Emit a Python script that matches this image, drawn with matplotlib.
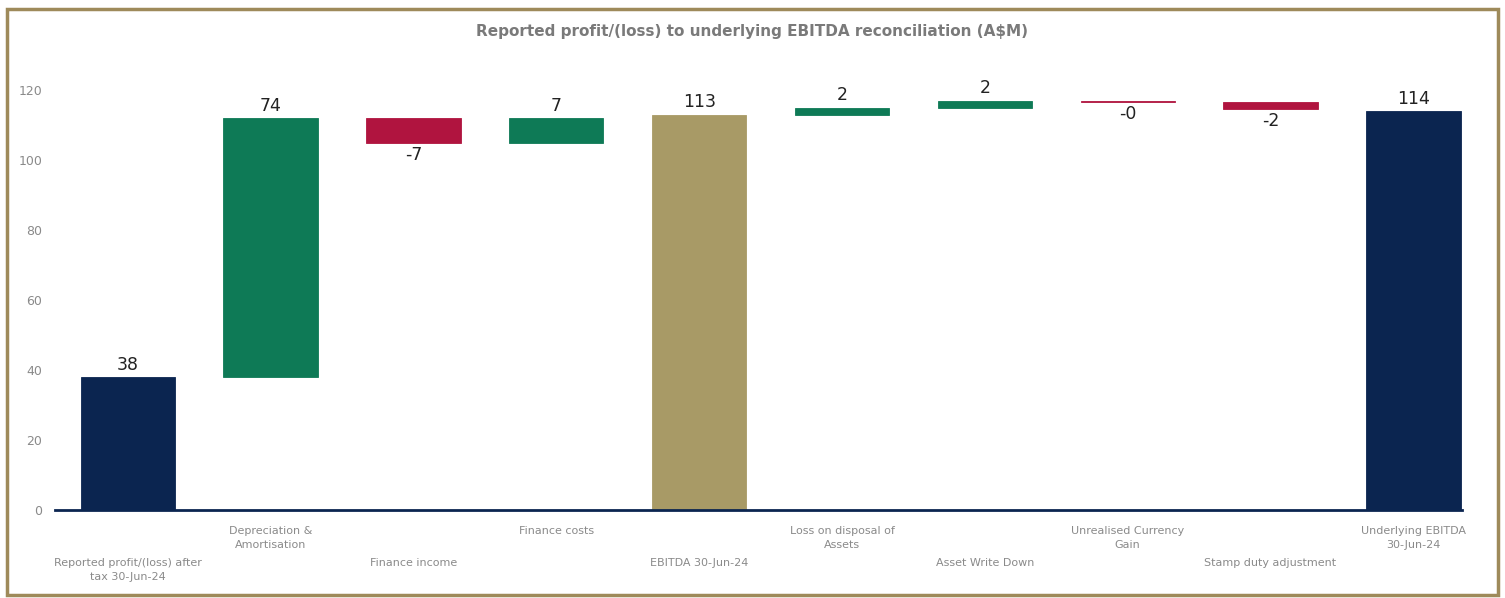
import numpy as np
import matplotlib
matplotlib.use("Agg")
import matplotlib.pyplot as plt
from matplotlib.patches import Rectangle
from matplotlib.transforms import blended_transform_factory

categories = [
    "Reported profit/(loss) after\ntax 30-Jun-24",
    "Depreciation &\nAmortisation",
    "Finance income",
    "Finance costs",
    "EBITDA 30-Jun-24",
    "Loss on disposal of\nAssets",
    "Asset Write Down",
    "Unrealised Currency\nGain",
    "Stamp duty adjustment",
    "Underlying EBITDA\n30-Jun-24",
]
values = [38, 74, -7, 7, 113, 2, 2, -0.3, -2, 114]
is_total = [True, False, False, False, True, False, False, False, False, True]
total_colors = ["#0b2550", None, None, None, "#a89a66", None, None, None, None, "#0b2550"]

GREEN = "#0e7a56"
RED = "#b0143f"
GREY = "#8a8a8a"

fig = plt.figure(figsize=(15.05, 5.98), dpi=100)
ax = fig.add_axes([0.0365, 0.147, 0.9349, 0.749])

x = np.arange(len(values))
bottoms, heights, colors = [], [], []
running = 0.0
for v, tot, tc in zip(values, is_total, total_colors):
    if tot:
        bottoms.append(0)
        heights.append(v)
        colors.append(tc)
        running = v
    else:
        bottoms.append(running if v >= 0 else running + v)
        heights.append(abs(v))
        colors.append(GREEN if v >= 0 else RED)
        running += v

ax.bar(x, heights, bottom=bottoms, width=0.66, color=colors,
       edgecolor=colors, linewidth=0.6, zorder=2)

for i, (v, b, h) in enumerate(zip(values, bottoms, heights)):
    if v >= 0:
        ax.text(i, b + h + 1.0, f"{v:.0f}", ha="center", va="bottom",
                fontsize=12.5, color="#222222")
    else:
        ax.text(i, b - 1.0, f"{v:.0f}", ha="center", va="top",
                fontsize=12.5, color="#222222")

ax.set_xlim(-0.51, 9.34)
ax.set_ylim(0, 128)
ax.set_yticks(np.arange(0, 121, 20))
ax.tick_params(axis="y", length=0, pad=9, labelsize=9, labelcolor=GREY)
ax.set_xticks([])
for s in ax.spines.values():
    s.set_visible(False)
ax.axhline(0, color="#0b2550", lw=2, zorder=3, clip_on=False)

# staggered category labels below the axis
trans = blended_transform_factory(ax.transData, fig.transFigure)
for i, lab in enumerate(categories):
    ytop = 0.121 if i % 2 == 1 else 0.067
    ax.text(i, ytop, lab, transform=trans, ha="center", va="top",
            fontsize=8, color=GREY, linespacing=1.5)

fig.text(0.5, 0.948, "Reported profit/(loss) to underlying EBITDA reconciliation (A$M)",
         ha="center", va="center", fontsize=11, color="#7a7a7a", fontweight="bold")

fig.patches.append(Rectangle((0.0047, 0.005), 0.9907, 0.98, transform=fig.transFigure,
                             fill=False, edgecolor="#9e8a5a", lw=2.5))

fig.savefig("out.png", dpi=100)
